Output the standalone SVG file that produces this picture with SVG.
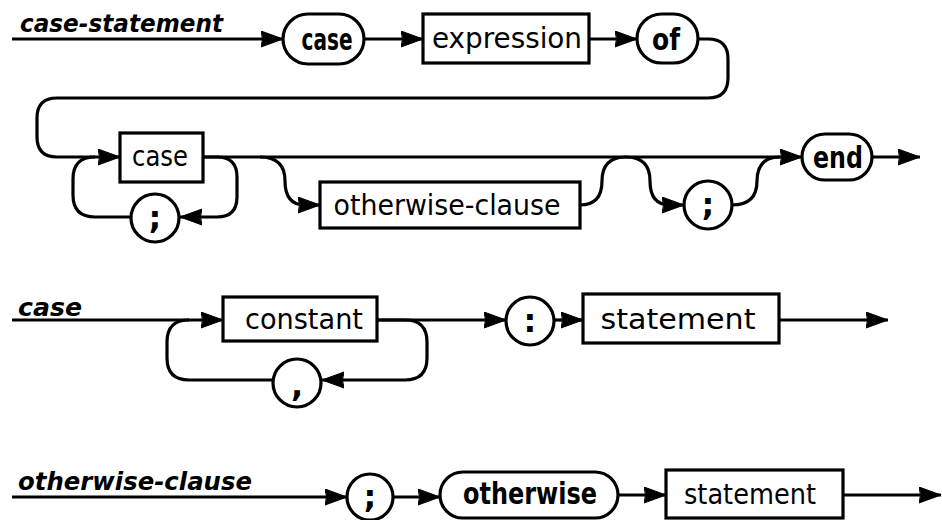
<svg xmlns="http://www.w3.org/2000/svg" width="942" height="520" viewBox="0 0 942 520">
<defs>
<marker id="arr" markerUnits="userSpaceOnUse" markerWidth="24" markerHeight="18" refX="22" refY="8.5" orient="auto">
<path d="M0,0.5 Q3,8.5 0,16.5 L22,8.5 Z" fill="#000" stroke="#000" stroke-width="1" stroke-linejoin="round"/>
</marker>
<style>
.ln{fill:none;stroke:#000;stroke-width:3.2;stroke-linejoin:round}
.ar{marker-end:url(#arr)}
.bx{fill:#fff;stroke:#000;stroke-width:3.2}
.lb{font-family:"DejaVu Sans","Liberation Sans",sans-serif;font-size:29px;fill:#000;text-anchor:middle}
.kw{font-family:"DejaVu Sans","Liberation Sans",sans-serif;font-size:31px;font-weight:bold;fill:#000;text-anchor:middle}
.tt{font-family:"DejaVu Sans","Liberation Sans",sans-serif;font-size:25px;font-weight:bold;font-style:italic;fill:#000}
.pn{font-family:"DejaVu Sans","Liberation Sans",sans-serif;font-size:32px;font-weight:bold;fill:#000;text-anchor:middle}
</style>
</defs>
<rect width="942" height="520" fill="#fff"/>

<g id="titles">
<text class="tt" x="20" y="32" textLength="203" lengthAdjust="spacingAndGlyphs">case-statement</text>
<text class="tt" x="18" y="316" textLength="64" lengthAdjust="spacingAndGlyphs">case</text>
<text class="tt" x="18" y="490" textLength="234" lengthAdjust="spacingAndGlyphs">otherwise-clause</text>
</g>

<g id="connectors">
<!-- row 1 -->
<path class="ln ar" d="M12 39 H283"/>
<path class="ln ar" d="M364 39 H423"/>
<path class="ln ar" d="M589 39 H637"/>
<path class="ln ar" d="M698 39 H708 Q728 39 728 59 V78 Q728 98 708 98 H57 Q37 98 37 118 V137 Q37 157 57 157 H120"/>
<!-- row 2 -->
<path class="ln ar" d="M203 157 H802"/>
<path class="ln ar" d="M203 157 H217 Q237 157 237 177 V197 Q237 217 217 217 H180"/>
<path class="ln" d="M131 217 H95 Q73 217 73 195 V179 Q73 157 95 157"/>
<path class="ln ar" d="M260 157 Q285 157 285 181 Q285 205 305 205 H320"/>
<path class="ln" d="M580 205 Q602 205 602 181 Q602 157 626 157"/>
<path class="ln ar" d="M626 157 Q650 157 650 181 Q650 205 670 205 H684"/>
<path class="ln" d="M732 205 Q757 205 757 181 Q757 157 780 157"/>
<path class="ln ar" d="M872 157 H920"/>
<!-- row 3 -->
<path class="ln ar" d="M12 320 H223"/>
<path class="ln ar" d="M377 320 H506"/>
<path class="ln ar" d="M377 320 H405 Q427 320 427 342 V358 Q427 380 405 380 H322"/>
<path class="ln" d="M273 380 H189 Q167 380 167 358 V342 Q167 320 189 320"/>
<path class="ln ar" d="M554 320 H583"/>
<path class="ln ar" d="M779 320 H888"/>
<!-- row 4 -->
<path class="ln ar" d="M12 497 H347"/>
<path class="ln ar" d="M393 497 H440"/>
<path class="ln ar" d="M618 495 H666"/>
<path class="ln ar" d="M843 495 H941"/>
</g>

<g id="n-case-kw1">
<rect class="bx" x="283" y="14" width="81" height="50" rx="25"/>
<text class="kw" x="327" y="50" textLength="51" lengthAdjust="spacingAndGlyphs">case</text>
</g>
<g id="n-expression">
<rect class="bx" x="423" y="14" width="166" height="49"/>
<text class="lb" x="507" y="48" textLength="150" lengthAdjust="spacingAndGlyphs">expression</text>
</g>
<g id="n-of">
<rect class="bx" x="637" y="14" width="61" height="49" rx="24.5"/>
<text class="kw" x="666" y="50" textLength="28" lengthAdjust="spacingAndGlyphs">of</text>
</g>

<g id="n-case-ref">
<rect class="bx" x="120" y="133" width="83" height="49"/>
<text class="lb" x="160" y="166" textLength="56" lengthAdjust="spacingAndGlyphs">case</text>
</g>
<g id="n-semi1">
<circle class="bx" cx="155" cy="218" r="24"/>
<text class="pn" x="155" y="229">;</text>
</g>
<g id="n-otherwise-clause">
<rect class="bx" x="320" y="182" width="260" height="46"/>
<text class="lb" x="447" y="215" textLength="227" lengthAdjust="spacingAndGlyphs">otherwise-clause</text>
</g>
<g id="n-semi2">
<circle class="bx" cx="708" cy="205" r="24"/>
<text class="pn" x="708" y="216">;</text>
</g>
<g id="n-end">
<rect class="bx" x="802" y="134" width="70" height="46" rx="23"/>
<text class="kw" x="838" y="168" textLength="50" lengthAdjust="spacingAndGlyphs">end</text>
</g>

<g id="n-constant">
<rect class="bx" x="223" y="297" width="154" height="44"/>
<text class="lb" x="304" y="329" textLength="118" lengthAdjust="spacingAndGlyphs">constant</text>
</g>
<g id="n-comma">
<circle class="bx" cx="297" cy="383" r="24"/>
<text class="pn" x="297" y="396">,</text>
</g>
<g id="n-colon">
<circle class="bx" cx="530" cy="321" r="24"/>
<text class="pn" x="530" y="332">:</text>
</g>
<g id="n-statement1">
<rect class="bx" x="583" y="294" width="196" height="49"/>
<text class="lb" x="678" y="329" textLength="155" lengthAdjust="spacingAndGlyphs">statement</text>
</g>

<g id="n-semi3">
<circle class="bx" cx="370" cy="497" r="23"/>
<text class="pn" x="370" y="508">;</text>
</g>
<g id="n-otherwise">
<rect class="bx" x="440" y="472" width="178" height="46" rx="23"/>
<text class="kw" x="530" y="504" textLength="134" lengthAdjust="spacingAndGlyphs">otherwise</text>
</g>
<g id="n-statement2">
<rect class="bx" x="666" y="470" width="177" height="48"/>
<text class="lb" x="750" y="504" textLength="132" lengthAdjust="spacingAndGlyphs">statement</text>
</g>
</svg>
